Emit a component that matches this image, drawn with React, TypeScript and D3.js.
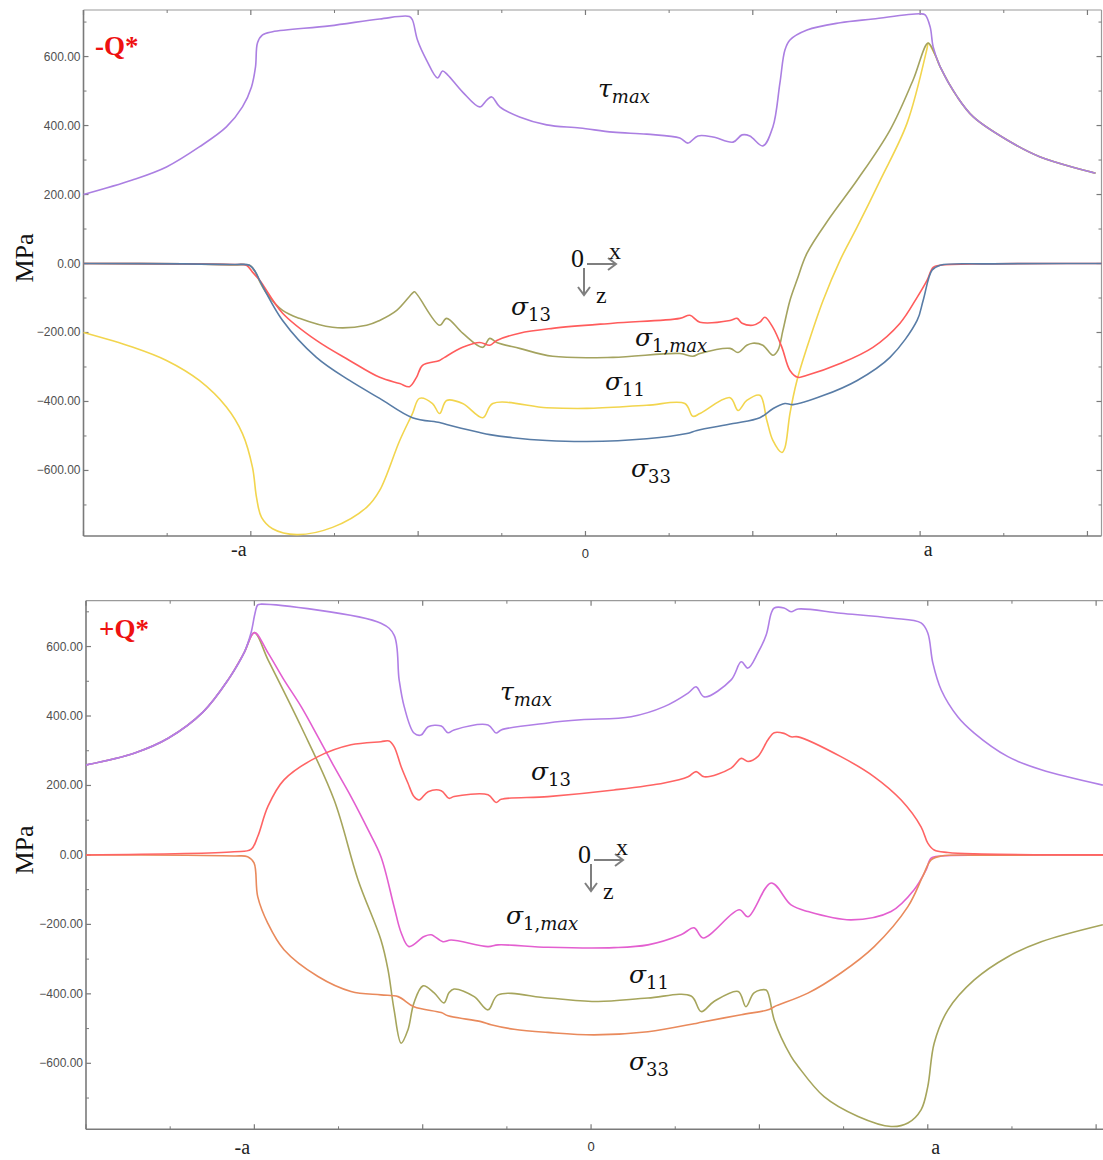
import React from 'react';
import * as d3 from 'd3';

type Pt = [number, number];

// ---------- Top panel (-Q*) ----------
const topTau: Pt[] = [
  [-1.5, 200], [-1.354, 242], [-1.252, 280], [-1.154, 338], [-1.073, 396], [-1.025, 454],
  [-0.998, 512], [-0.986, 570], [-0.98, 640], [-0.965, 663], [-0.935, 672], [-0.765, 689],
  [-0.615, 709], [-0.526, 716], [-0.517, 706], [-0.502, 648], [-0.475, 590], [-0.442, 538],
  [-0.427, 558], [-0.412, 547], [-0.367, 497], [-0.316, 454], [-0.295, 474], [-0.28, 483],
  [-0.256, 454], [-0.197, 425], [-0.116, 402], [-0.017, 393], [0.082, 381], [0.183, 375],
  [0.282, 364], [0.306, 349], [0.336, 370], [0.381, 367], [0.441, 352], [0.468, 373],
  [0.491, 370], [0.53, 341], [0.56, 396], [0.581, 523], [0.596, 619], [0.611, 648],
  [0.662, 677], [0.761, 698], [0.859, 709], [1.0, 724], [1.015, 721], [1.03, 686],
  [1.039, 628], [1.06, 570], [1.111, 483], [1.159, 425], [1.26, 358], [1.359, 309], [1.524, 262],
];

const topS1max: Pt[] = [
  [-1.5, 0], [-1.2, -1], [-1.05, -4], [-1.004, -5], [-0.986, -25], [-0.974, -51], [-0.953, -86],
  [-0.905, -136], [-0.855, -159], [-0.756, -185], [-0.654, -179], [-0.615, -165], [-0.564, -136],
  [-0.517, -86], [-0.511, -82], [-0.436, -179], [-0.415, -159], [-0.367, -202], [-0.307, -243],
  [-0.286, -217], [-0.265, -229], [-0.197, -246], [-0.098, -269], [0.082, -272], [0.282, -261],
  [0.321, -269], [0.342, -261], [0.432, -246], [0.456, -258], [0.482, -237], [0.5, -231],
  [0.53, -237], [0.56, -266], [0.575, -252], [0.59, -194], [0.611, -107], [0.632, -48],
  [0.662, 30], [0.731, 134], [0.812, 242], [0.91, 387], [0.979, 532], [1.024, 639],
  [1.045, 605], [1.06, 570], [1.111, 483], [1.159, 425], [1.26, 358], [1.359, 309], [1.524, 262],
];

const topS11: Pt[] = [
  [-1.5, -200], [-1.354, -242], [-1.252, -281], [-1.154, -339], [-1.073, -416], [-1.025, -493],
  [-0.995, -591], [-0.983, -678], [-0.968, -736], [-0.935, -769], [-0.863, -786], [-0.756, -765],
  [-0.654, -707], [-0.615, -658], [-0.555, -513], [-0.517, -435], [-0.496, -391], [-0.457, -406],
  [-0.436, -435], [-0.415, -397], [-0.367, -406], [-0.307, -447], [-0.277, -406], [-0.116, -418],
  [0.004, -420], [0.183, -411], [0.297, -406], [0.321, -443], [0.342, -435], [0.432, -389],
  [0.456, -426], [0.482, -397], [0.521, -382], [0.542, -455], [0.56, -513], [0.587, -548],
  [0.596, -534], [0.611, -435], [0.632, -339], [0.662, -243], [0.71, -107], [0.761, 10],
  [0.812, 106], [0.881, 242], [0.961, 407], [1.021, 625], [1.024, 639],
  [1.045, 605], [1.06, 570], [1.111, 483], [1.159, 425], [1.26, 358], [1.359, 309], [1.524, 262],
];

const topS13: Pt[] = [
  [-1.5, 0], [-1.2, -1], [-1.05, -3], [-1.013, -5], [-0.995, -25], [-0.974, -48], [-0.905, -144],
  [-0.804, -223], [-0.705, -281], [-0.615, -330], [-0.555, -348], [-0.526, -357], [-0.505, -330],
  [-0.487, -295], [-0.436, -281], [-0.421, -272], [-0.367, -243], [-0.316, -229], [-0.286, -237],
  [-0.265, -223], [-0.197, -202], [-0.098, -188], [0.082, -173], [0.282, -159], [0.312, -150],
  [0.342, -170], [0.432, -165], [0.453, -159], [0.468, -173], [0.5, -179], [0.521, -170],
  [0.536, -156], [0.56, -185], [0.587, -243], [0.611, -310], [0.635, -330], [0.662, -324],
  [0.761, -290], [0.859, -243], [0.94, -173], [0.991, -98], [1.021, -48], [1.039, -11],
  [1.06, -5], [1.2, -1], [1.542, 0],
];

const topS33: Pt[] = [
  [-1.5, 0], [-1.2, -1], [-1.05, -3], [-1.004, -5], [-0.986, -25], [-0.974, -48], [-0.905, -165],
  [-0.804, -272], [-0.705, -339], [-0.615, -391], [-0.517, -447], [-0.436, -461], [-0.415, -467],
  [-0.316, -490], [-0.286, -496], [-0.217, -505], [-0.116, -513], [0.004, -516], [0.183, -508],
  [0.303, -493], [0.333, -484], [0.441, -464], [0.521, -447], [0.56, -421], [0.596, -406],
  [0.62, -409], [0.71, -383], [0.812, -339], [0.91, -272], [0.991, -165], [1.009, -107],
  [1.036, -19], [1.06, -5], [1.2, -1], [1.542, 0],
];

// ---------- Bottom panel (+Q*) ----------
const botTau: Pt[] = [
  [-1.5, 259], [-1.357, 293], [-1.256, 336], [-1.152, 412], [-1.078, 504], [-1.031, 581],
  [-1.01, 639], [-0.998, 696], [-0.99, 720], [-0.98, 722], [-0.624, 667], [-0.585, 633],
  [-0.57, 504], [-0.555, 427], [-0.526, 351], [-0.505, 345], [-0.484, 369], [-0.445, 371],
  [-0.425, 352], [-0.407, 360], [-0.306, 374], [-0.282, 351], [-0.267, 360], [-0.128, 380],
  [-0.03, 389], [0.119, 398], [0.217, 427], [0.288, 466], [0.312, 484], [0.336, 455],
  [0.416, 504], [0.446, 556], [0.466, 538], [0.495, 581], [0.52, 633], [0.535, 696],
  [0.544, 711], [0.573, 711], [0.594, 700], [0.615, 708], [0.742, 696], [0.891, 682],
  [0.98, 668], [1.0, 639], [1.015, 553], [1.04, 475], [1.089, 398], [1.138, 351],
  [1.238, 283], [1.337, 245], [1.52, 201],
];

const botS1max: Pt[] = [
  [-1.5, 259], [-1.357, 293], [-1.256, 336], [-1.152, 412], [-1.078, 504], [-1.031, 581],
  [-1.0, 640], [-0.959, 581], [-0.912, 504], [-0.861, 427], [-0.811, 340], [-0.763, 254],
  [-0.713, 168], [-0.662, 72], [-0.624, -5], [-0.585, -149], [-0.564, -224], [-0.541, -264],
  [-0.496, -235], [-0.475, -230], [-0.44, -250], [-0.416, -245], [-0.306, -264], [-0.276, -259],
  [-0.128, -266], [0.068, -267], [0.169, -259], [0.267, -230], [0.306, -210], [0.333, -239],
  [0.44, -158], [0.466, -178], [0.535, -81], [0.594, -144], [0.644, -163], [0.772, -187],
  [0.891, -163], [0.959, -101], [0.995, -43], [1.01, -9], [1.04, -3], [1.2, -1], [1.54, 0],
];

const botS11: Pt[] = [
  [-1.5, 259], [-1.357, 293], [-1.256, 336], [-1.152, 412], [-1.078, 504], [-1.031, 581],
  [-1.0, 640], [-0.959, 561], [-0.861, 369], [-0.763, 158], [-0.692, -72], [-0.624, -245],
  [-0.603, -331], [-0.585, -446], [-0.564, -542], [-0.544, -504], [-0.526, -426], [-0.499, -377],
  [-0.466, -397], [-0.437, -426], [-0.422, -397], [-0.407, -386], [-0.347, -408], [-0.306, -446],
  [-0.276, -403], [-0.128, -412], [0.021, -422], [0.169, -412], [0.297, -406], [0.327, -451],
  [0.365, -422], [0.437, -393], [0.46, -437], [0.484, -397], [0.52, -389], [0.529, -408],
  [0.544, -475], [0.594, -580], [0.615, -609], [0.692, -696], [0.793, -753], [0.891, -782],
  [0.941, -772], [0.98, -734], [1.0, -667], [1.019, -542], [1.06, -446], [1.138, -360],
  [1.238, -293], [1.337, -250], [1.52, -201],
];

const botS13: Pt[] = [
  [-1.5, 0], [-1.06, 9], [-1.01, 16], [-0.99, 53], [-0.96, 139], [-0.912, 216], [-0.811, 283],
  [-0.713, 317], [-0.624, 326], [-0.6, 328], [-0.585, 312], [-0.564, 254], [-0.544, 207],
  [-0.526, 168], [-0.511, 158], [-0.484, 182], [-0.445, 185], [-0.422, 163], [-0.407, 168],
  [-0.306, 173], [-0.282, 151], [-0.267, 160], [-0.128, 168], [0.068, 187], [0.217, 207],
  [0.288, 225], [0.312, 240], [0.336, 225], [0.416, 250], [0.446, 278], [0.466, 269],
  [0.495, 283], [0.525, 331], [0.544, 352], [0.573, 350], [0.594, 340], [0.615, 340],
  [0.742, 283], [0.841, 225], [0.921, 158], [0.98, 81], [1.0, 34], [1.019, 14], [1.06, 7],
  [1.138, 3], [1.54, 0],
];

const botS33: Pt[] = [
  [-1.5, 0], [-1.2, -1], [-1.06, -3], [-1.02, -5], [-1.001, -23], [-0.99, -120], [-0.96, -197],
  [-0.912, -273], [-0.811, -350], [-0.713, -393], [-0.624, -403], [-0.573, -408], [-0.526, -437],
  [-0.445, -454], [-0.425, -463], [-0.327, -480], [-0.297, -489], [-0.229, -502], [-0.128, -511],
  [0.009, -518], [0.169, -509], [0.306, -486], [0.327, -482], [0.446, -460], [0.526, -446],
  [0.544, -437], [0.644, -398], [0.742, -340], [0.841, -264], [0.941, -149], [0.985, -62],
  [1.01, -14], [1.04, -3], [1.2, -1], [1.54, 0],
];

// ---------- Axis ticks ----------
const yLabelTicks = [-600, -400, -200, 0, 200, 400, 600];
const yMinorTicks = [-700, -500, -300, -100, 100, 300, 500, 700];
const xMajorTicks = [-1.5, -1, -0.5, 0, 0.5, 1, 1.5];
const xMinorTicks = [-1.25, -0.75, -0.25, 0.25, 0.75, 1.25];
const xLabels = [
  { v: -1, t: '-a', dx: -12 },
  { v: 0, t: '0', dx: 0 },
  { v: 1, t: 'a', dx: 8 },
];

type Series = { name: string; data: Pt[]; color: string };

const topSeries: Series[] = [
  { name: 's11', data: topS11, color: '#f2d54e' },
  { name: 's1max', data: topS1max, color: '#a4a35f' },
  { name: 's13', data: topS13, color: '#ff5c5c' },
  { name: 's33', data: topS33, color: '#587ca6' },
  { name: 'tau', data: topTau, color: '#ab7fe2' },
];

const botSeries: Series[] = [
  { name: 's11', data: botS11, color: '#a6a55c' },
  { name: 's1max', data: botS1max, color: '#e35fd0' },
  { name: 's33', data: botS33, color: '#e98a5c' },
  { name: 's13', data: botS13, color: '#ff6464' },
  { name: 'tau', data: botTau, color: '#b07fe6' },
];

const AXIS = '#7a7a7a';
const SERIF = '"Liberation Serif", "DejaVu Serif", serif';
const MATH = '"DejaVu Serif", "Liberation Serif", serif';
const SANS = '"Liberation Sans", Arial, sans-serif';

type Lbl = { x: number; y: number; main: string; sub: string; subItalicFrom?: number };

function Sym({ x, y, main, sub, subItalicFrom }: Lbl) {
  const upright = subItalicFrom === undefined ? sub : sub.slice(0, subItalicFrom);
  const ital = subItalicFrom === undefined ? '' : sub.slice(subItalicFrom);
  const isNum = /^[0-9]/.test(sub);
  return (
    <text x={x} y={y} fontFamily={MATH} fontSize={25} fill="#111">
      <tspan fontStyle="italic">{main}</tspan>
      <tspan dy={6} fontSize={18} fontStyle={isNum ? 'normal' : 'italic'}>{upright}</tspan>
      {ital ? <tspan fontSize={18} fontStyle="italic">{ital}</tspan> : null}
    </text>
  );
}

function CoordIcon({ x, y }: { x: number; y: number }) {
  const g = '#7f7f7f';
  return (
    <g>
      <text x={x} y={y} fontFamily={SERIF} fontSize={26} fill="#111">0</text>
      <line x1={x + 16} y1={y - 3} x2={x + 44} y2={y - 3} stroke={g} strokeWidth={2} />
      <polyline points={`${x + 37},${y - 9} ${x + 45},${y - 3} ${x + 37},${y + 3}`} fill="none" stroke={g} strokeWidth={2} />
      <text x={x + 38} y={y - 8} fontFamily={SERIF} fontSize={24} fill="#111">x</text>
      <line x1={x + 13} y1={y + 1} x2={x + 13} y2={y + 27} stroke={g} strokeWidth={2} />
      <polyline points={`${x + 7},${y + 20} ${x + 13},${y + 28} ${x + 19},${y + 20}`} fill="none" stroke={g} strokeWidth={2} />
      <text x={x + 25} y={y + 36} fontFamily={SERIF} fontSize={24} fill="#111">z</text>
    </g>
  );
}

type PanelProps = {
  xRange: [number, number];
  xDomain: [number, number];
  yRange: [number, number];
  yDomain: [number, number];
  series: Series[];
  title: string;
  titlePos: [number, number];
  labels: Lbl[];
  icon: [number, number];
  mpaY: number;
  labelY: number;
  zeroLabelY: number;
  rightFrame: boolean;
};

function Panel(p: PanelProps) {
  const x = d3.scaleLinear().domain(p.xDomain).range(p.xRange);
  const y = d3.scaleLinear().domain(p.yDomain).range(p.yRange);
  const line = d3
    .line<Pt>()
    .x((d) => x(d[0]))
    .y((d) => y(d[1]))
    .curve(d3.curveCatmullRom.alpha(0.5));
  const [x0, x1] = p.xRange;
  const [yb, yt] = p.yRange;
  return (
    <g>
      <line x1={x0} y1={yt} x2={x0} y2={yb} stroke={AXIS} strokeWidth={1.6} />
      <line x1={x0} y1={yb} x2={x1} y2={yb} stroke={AXIS} strokeWidth={1.6} />
      <line x1={x0} y1={yt} x2={x1} y2={yt} stroke="#9a9a9a" strokeWidth={1.2} />
      {p.rightFrame ? <line x1={x1} y1={yt} x2={x1} y2={yb} stroke="#9a9a9a" strokeWidth={1.2} /> : null}
      {yLabelTicks.map((t) => (
        <g key={'yl' + t}>
          <line x1={x0} x2={x0 + 5} y1={y(t)} y2={y(t)} stroke={AXIS} strokeWidth={1.2} />
          {p.rightFrame ? <line x1={x1} x2={x1 - 5} y1={y(t)} y2={y(t)} stroke={AXIS} strokeWidth={1.2} /> : null}
          <text x={x0 - 3} y={y(t) + 4} textAnchor="end" fontFamily={SANS} fontSize={12} fill="#505050">
            {d3.format('.2f')(t)}
          </text>
        </g>
      ))}
      {yMinorTicks.map((t) => (
        <g key={'ym' + t}>
          <line x1={x0} x2={x0 + 3} y1={y(t)} y2={y(t)} stroke={AXIS} strokeWidth={1} />
          {p.rightFrame ? <line x1={x1} x2={x1 - 3} y1={y(t)} y2={y(t)} stroke={AXIS} strokeWidth={1} /> : null}
        </g>
      ))}
      {xMajorTicks.map((t) => (
        <g key={'xM' + t}>
          <line x1={x(t)} x2={x(t)} y1={yb} y2={yb - 5} stroke={AXIS} strokeWidth={1.2} />
          <line x1={x(t)} x2={x(t)} y1={yt} y2={yt + 5} stroke={AXIS} strokeWidth={1.2} />
        </g>
      ))}
      {xMinorTicks.map((t) => (
        <g key={'xm' + t}>
          <line x1={x(t)} x2={x(t)} y1={yb} y2={yb - 3} stroke={AXIS} strokeWidth={1} />
          <line x1={x(t)} x2={x(t)} y1={yt} y2={yt + 3} stroke={AXIS} strokeWidth={1} />
        </g>
      ))}
      {xLabels.map((l) =>
        l.t === '0' ? (
          <text key={l.t} x={x(l.v)} y={p.zeroLabelY} textAnchor="middle" fontFamily={SANS} fontSize={13} fill="#333">
            {l.t}
          </text>
        ) : (
          <text key={l.t} x={x(l.v) + l.dx} y={p.labelY} textAnchor="middle" fontFamily={SERIF} fontSize={20} fill="#222">
            {l.t}
          </text>
        )
      )}
      {p.series.map((s) => (
        <path key={s.name} d={line(s.data) || ''} fill="none" stroke={s.color} strokeWidth={1.6} />
      ))}
      <text x={p.titlePos[0]} y={p.titlePos[1]} fontFamily={SERIF} fontWeight="bold" fontSize={27} fill="#ee1111">
        {p.title}
      </text>
      <text
        transform={`translate(33,${p.mpaY}) rotate(-90)`}
        textAnchor="middle"
        fontFamily={SERIF}
        fontSize={26}
        fill="#111"
      >
        MPa
      </text>
      {p.labels.map((l, i) => (
        <Sym key={i} {...l} />
      ))}
      <CoordIcon x={p.icon[0]} y={p.icon[1]} />
    </g>
  );
}

export default function App() {
  return (
    <div style={{ position: 'absolute', left: 0, top: 0 }}>
      <svg width={1103} height={1160} style={{ display: 'block', background: '#fff' }}>
        <Panel
          xRange={[83.5, 1101.5]}
          xDomain={[-1.5, 1.542]}
          yRange={[536, 10]}
          yDomain={[-790, 735]}
          series={topSeries}
          title="-Q*"
          titlePos={[95, 55]}
          labels={[
            { x: 598, y: 97, main: 'τ', sub: 'max' },
            { x: 511, y: 315, main: 'σ', sub: '13' },
            { x: 635, y: 346, main: 'σ', sub: '1,max', subItalicFrom: 2 },
            { x: 605, y: 390, main: 'σ', sub: '11' },
            { x: 631, y: 477, main: 'σ', sub: '33' },
          ]}
          icon={[571, 267]}
          mpaY={258}
          labelY={556}
          zeroLabelY={558}
          rightFrame={true}
        />
        <Panel
          xRange={[86, 1109.6]}
          xDomain={[-1.5, 1.54]}
          yRange={[1129.3, 600.7]}
          yDomain={[-790, 732]}
          series={botSeries}
          title="+Q*"
          titlePos={[99, 638]}
          labels={[
            { x: 500, y: 700, main: 'τ', sub: 'max' },
            { x: 531, y: 780, main: 'σ', sub: '13' },
            { x: 506, y: 924, main: 'σ', sub: '1,max', subItalicFrom: 2 },
            { x: 629, y: 983, main: 'σ', sub: '11' },
            { x: 629, y: 1070, main: 'σ', sub: '33' },
          ]}
          icon={[578, 863]}
          mpaY={850}
          labelY={1154}
          zeroLabelY={1151}
          rightFrame={false}
        />
      </svg>
    </div>
  );
}
